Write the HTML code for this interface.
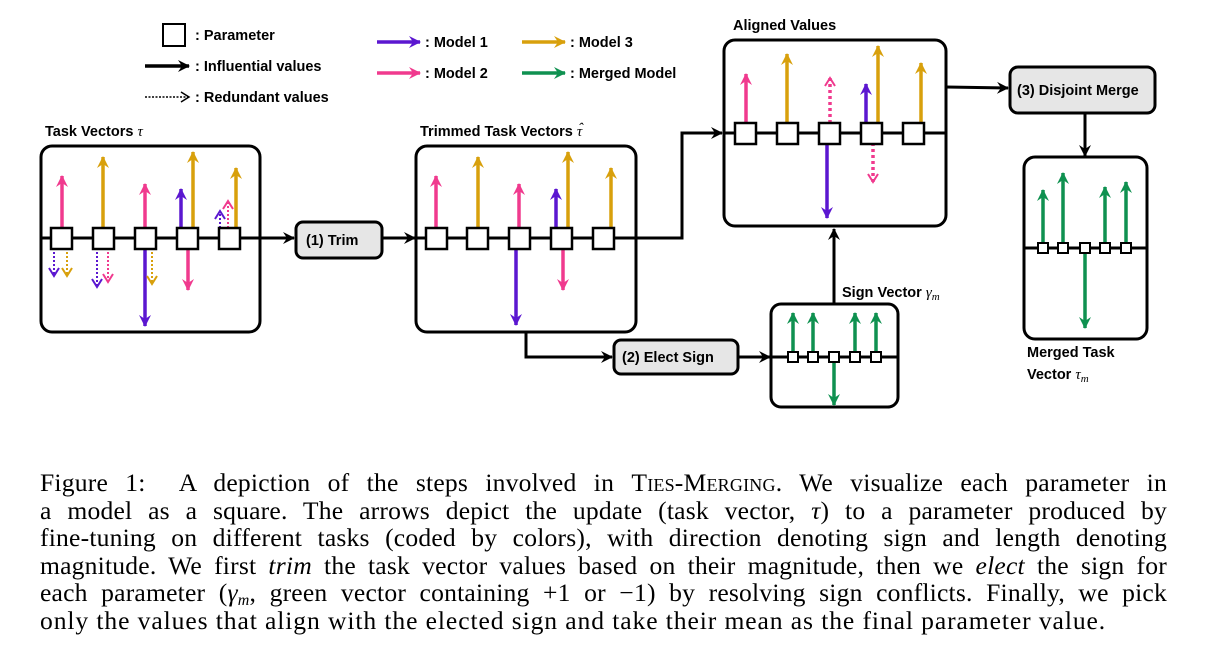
<!DOCTYPE html>
<html><head><meta charset="utf-8"><style>
body{margin:0;background:#fff;width:1222px;height:668px;overflow:hidden;position:relative}
svg{position:absolute;left:0;top:0}
.t{font-family:"Liberation Sans",sans-serif;font-weight:bold;font-size:14.5px;fill:#000}
.m{font-family:"Liberation Serif",serif;font-style:italic;font-size:15px}
#cap{position:absolute;left:40px;top:469px;width:1127px;font-family:"Liberation Serif",serif;font-size:25.6px;letter-spacing:0.2px;color:#000}
#cap div{height:27.6px;line-height:27.6px;text-align:justify;text-align-last:justify;white-space:nowrap}
#cap div.l{text-align-last:left;letter-spacing:0.9px}
.sc{font-variant:small-caps}
.sb{font-size:16px;position:relative;top:4px}
</style></head><body>
<svg width="1222" height="668" viewBox="0 0 1222 668">
<defs>
<marker id="k" markerUnits="userSpaceOnUse" markerWidth="14" markerHeight="14" refX="11" refY="7" orient="auto"><path d="M0,1 L12,7 L0,13 L4,7z" fill="#000"/></marker>
<marker id="P" markerUnits="userSpaceOnUse" markerWidth="14" markerHeight="14" refX="11" refY="7" orient="auto"><path d="M0,1 L12,7 L0,13 L4,7z" fill="#5b17d0"/></marker>
<marker id="K" markerUnits="userSpaceOnUse" markerWidth="14" markerHeight="14" refX="11" refY="7" orient="auto"><path d="M0,1 L12,7 L0,13 L4,7z" fill="#f03a8e"/></marker>
<marker id="G" markerUnits="userSpaceOnUse" markerWidth="14" markerHeight="14" refX="11" refY="7" orient="auto"><path d="M0,1 L12,7 L0,13 L4,7z" fill="#d8a00c"/></marker>
<marker id="N" markerUnits="userSpaceOnUse" markerWidth="14" markerHeight="14" refX="11" refY="7" orient="auto"><path d="M0,1 L12,7 L0,13 L4,7z" fill="#0f9150"/></marker>
<marker id="dP" markerUnits="userSpaceOnUse" markerWidth="12" markerHeight="12" refX="9" refY="6" orient="auto"><path d="M1,1 L9,6 L1,11" fill="none" stroke="#5b17d0" stroke-width="2"/></marker>
<marker id="dK" markerUnits="userSpaceOnUse" markerWidth="12" markerHeight="12" refX="9" refY="6" orient="auto"><path d="M1,1 L9,6 L1,11" fill="none" stroke="#f03a8e" stroke-width="2"/></marker>
<marker id="dG" markerUnits="userSpaceOnUse" markerWidth="12" markerHeight="12" refX="9" refY="6" orient="auto"><path d="M1,1 L9,6 L1,11" fill="none" stroke="#d8a00c" stroke-width="2"/></marker>
<marker id="dk" markerUnits="userSpaceOnUse" markerWidth="12" markerHeight="12" refX="9" refY="6" orient="auto"><path d="M1,1 L9,6 L1,11" fill="none" stroke="#000" stroke-width="1.5"/></marker>
</defs>
<g stroke-width="3.5" fill="none">
<rect x="163" y="24" width="22" height="22" stroke="#000" stroke-width="2"/>
<line x1="145" y1="66" x2="189" y2="66" stroke="#000" marker-end="url(#k)"/>
<line x1="145" y1="97" x2="189" y2="97" stroke="#000" stroke-width="1.5" stroke-dasharray="2 1.5" marker-end="url(#dk)"/>
<line x1="377" y1="42" x2="420" y2="42" stroke="#5b17d0" marker-end="url(#P)"/>
<line x1="377" y1="73" x2="420" y2="73" stroke="#f03a8e" marker-end="url(#K)"/>
<line x1="522" y1="42" x2="565" y2="42" stroke="#d8a00c" marker-end="url(#G)"/>
<line x1="522" y1="73" x2="565" y2="73" stroke="#0f9150" marker-end="url(#N)"/>

<rect x="41" y="146" width="219" height="186" rx="11" stroke="#000" stroke-width="3"/>
<line x1="41" y1="238" x2="294" y2="238" stroke="#000" stroke-width="3" marker-end="url(#k)"/>
<line x1="62" y1="228" x2="62" y2="176" stroke="#f03a8e" marker-end="url(#K)"/>
<line x1="103" y1="228" x2="103" y2="157" stroke="#d8a00c" marker-end="url(#G)"/>
<line x1="145" y1="228" x2="145" y2="184" stroke="#f03a8e" marker-end="url(#K)"/>
<line x1="145" y1="248" x2="145" y2="326" stroke="#5b17d0" marker-end="url(#P)"/>
<line x1="181" y1="228" x2="181" y2="189" stroke="#5b17d0" marker-end="url(#P)"/>
<line x1="193" y1="228" x2="193" y2="152" stroke="#d8a00c" marker-end="url(#G)"/>
<line x1="188" y1="248" x2="188" y2="290" stroke="#f03a8e" marker-end="url(#K)"/>
<line x1="236" y1="228" x2="236" y2="168" stroke="#d8a00c" marker-end="url(#G)"/>
<g stroke-width="2" stroke-dasharray="2 2">
<line x1="54" y1="248" x2="54" y2="276" stroke="#5b17d0" marker-end="url(#dP)"/>
<line x1="67" y1="248" x2="67" y2="276" stroke="#d8a00c" marker-end="url(#dG)"/>
<line x1="97" y1="248" x2="97" y2="287" stroke="#5b17d0" marker-end="url(#dP)"/>
<line x1="108" y1="248" x2="108" y2="282" stroke="#f03a8e" marker-end="url(#dK)"/>
<line x1="152" y1="248" x2="152" y2="284" stroke="#d8a00c" marker-end="url(#dG)"/>
<line x1="220" y1="228" x2="220" y2="211" stroke="#5b17d0" marker-end="url(#dP)"/>
<line x1="228" y1="228" x2="228" y2="201" stroke="#f03a8e" marker-end="url(#dK)"/>
</g>
<g fill="#fff" stroke="#000" stroke-width="2.5">
<rect x="51" y="228" width="21" height="21"/><rect x="93" y="228" width="21" height="21"/><rect x="135" y="228" width="21" height="21"/><rect x="177" y="228" width="21" height="21"/><rect x="219" y="228" width="21" height="21"/>
</g>
<rect x="296" y="222" width="86" height="36" rx="7" fill="#e6e6e6" stroke="#000" stroke-width="3"/>
<line x1="382" y1="238" x2="415" y2="238" stroke="#000" stroke-width="3" marker-end="url(#k)"/>

<rect x="416" y="146" width="220" height="186" rx="11" stroke="#000" stroke-width="3"/>
<polyline points="416,238 682,238 682,133 722,133" stroke="#000" stroke-width="3" marker-end="url(#k)"/>
<polyline points="526,332 526,357 612,357" stroke="#000" stroke-width="3" marker-end="url(#k)"/>
<line x1="436" y1="228" x2="436" y2="176" stroke="#f03a8e" marker-end="url(#K)"/>
<line x1="478" y1="228" x2="478" y2="157" stroke="#d8a00c" marker-end="url(#G)"/>
<line x1="519" y1="228" x2="519" y2="184" stroke="#f03a8e" marker-end="url(#K)"/>
<line x1="516" y1="248" x2="516" y2="325" stroke="#5b17d0" marker-end="url(#P)"/>
<line x1="556" y1="228" x2="556" y2="189" stroke="#5b17d0" marker-end="url(#P)"/>
<line x1="568" y1="228" x2="568" y2="152" stroke="#d8a00c" marker-end="url(#G)"/>
<line x1="563" y1="248" x2="563" y2="290" stroke="#f03a8e" marker-end="url(#K)"/>
<line x1="611" y1="228" x2="611" y2="168" stroke="#d8a00c" marker-end="url(#G)"/>
<g fill="#fff" stroke="#000" stroke-width="2.5">
<rect x="426" y="228" width="21" height="21"/><rect x="467" y="228" width="21" height="21"/><rect x="509" y="228" width="21" height="21"/><rect x="551" y="228" width="21" height="21"/><rect x="593" y="228" width="21" height="21"/>
</g>
<rect x="614" y="340" width="124" height="34" rx="7" fill="#e6e6e6" stroke="#000" stroke-width="3"/>
<line x1="738" y1="357" x2="770" y2="357" stroke="#000" stroke-width="3" marker-end="url(#k)"/>

<rect x="724" y="40" width="222" height="186" rx="11" stroke="#000" stroke-width="3"/>
<line x1="724" y1="133" x2="946" y2="133" stroke="#000" stroke-width="3"/>
<polyline points="946,87 1008,88" stroke="#000" stroke-width="3" marker-end="url(#k)"/>
<line x1="746" y1="123" x2="746" y2="74" stroke="#f03a8e" marker-end="url(#K)"/>
<line x1="787" y1="123" x2="787" y2="54" stroke="#d8a00c" marker-end="url(#G)"/>
<line x1="827" y1="143" x2="827" y2="218" stroke="#5b17d0" marker-end="url(#P)"/>
<line x1="866" y1="123" x2="866" y2="84" stroke="#5b17d0" marker-end="url(#P)"/>
<line x1="878" y1="123" x2="878" y2="46" stroke="#d8a00c" marker-end="url(#G)"/>
<line x1="921" y1="123" x2="921" y2="63" stroke="#d8a00c" marker-end="url(#G)"/>
<line x1="830" y1="123" x2="830" y2="78" stroke="#f03a8e" stroke-dasharray="3 3" marker-end="url(#dK)"/>
<line x1="873" y1="143" x2="873" y2="182" stroke="#f03a8e" stroke-dasharray="3 3" marker-end="url(#dK)"/>
<g fill="#fff" stroke="#000" stroke-width="2.5">
<rect x="735" y="123" width="21" height="21"/><rect x="777" y="123" width="21" height="21"/><rect x="819" y="123" width="21" height="21"/><rect x="861" y="123" width="21" height="21"/><rect x="903" y="123" width="21" height="21"/>
</g>
<rect x="1010" y="67" width="145" height="46" rx="8" fill="#e6e6e6" stroke="#000" stroke-width="3"/>
<line x1="1085" y1="113" x2="1085" y2="156" stroke="#000" stroke-width="3" marker-end="url(#k)"/>

<rect x="1024" y="157" width="123" height="182" rx="11" stroke="#000" stroke-width="3"/>
<line x1="1024" y1="248" x2="1147" y2="248" stroke="#000" stroke-width="3"/>
<line x1="1043" y1="243" x2="1043" y2="190" stroke="#0f9150" marker-end="url(#N)"/>
<line x1="1063" y1="243" x2="1063" y2="173" stroke="#0f9150" marker-end="url(#N)"/>
<line x1="1085" y1="253" x2="1085" y2="328" stroke="#0f9150" marker-end="url(#N)"/>
<line x1="1105" y1="243" x2="1105" y2="187" stroke="#0f9150" marker-end="url(#N)"/>
<line x1="1126" y1="243" x2="1126" y2="182" stroke="#0f9150" marker-end="url(#N)"/>
<g fill="#fff" stroke="#000" stroke-width="2">
<rect x="1038" y="243" width="10" height="10"/><rect x="1058" y="243" width="10" height="10"/><rect x="1080" y="243" width="10" height="10"/><rect x="1100" y="243" width="10" height="10"/><rect x="1121" y="243" width="10" height="10"/>
</g>

<rect x="771" y="304" width="127" height="103" rx="10" stroke="#000" stroke-width="3"/>
<line x1="834" y1="304" x2="834" y2="229" stroke="#000" stroke-width="3" marker-end="url(#k)"/>
<line x1="771" y1="357" x2="898" y2="357" stroke="#000" stroke-width="3"/>
<line x1="793" y1="352" x2="793" y2="313" stroke="#0f9150" marker-end="url(#N)"/>
<line x1="813" y1="352" x2="813" y2="313" stroke="#0f9150" marker-end="url(#N)"/>
<line x1="855" y1="352" x2="855" y2="313" stroke="#0f9150" marker-end="url(#N)"/>
<line x1="876" y1="352" x2="876" y2="313" stroke="#0f9150" marker-end="url(#N)"/>
<line x1="834" y1="362" x2="834" y2="405" stroke="#0f9150" marker-end="url(#N)"/>
<g fill="#fff" stroke="#000" stroke-width="2">
<rect x="788" y="352" width="10" height="10"/><rect x="808" y="352" width="10" height="10"/><rect x="829" y="352" width="10" height="10"/><rect x="850" y="352" width="10" height="10"/><rect x="871" y="352" width="10" height="10"/>
</g>
</g>
<text class="t" x="195" y="40">: Parameter</text>
<text class="t" x="195" y="71">: Influential values</text>
<text class="t" x="195" y="102">: Redundant values</text>
<text class="t" x="425" y="47">: Model 1</text>
<text class="t" x="425" y="78">: Model 2</text>
<text class="t" x="570" y="47">: Model 3</text>
<text class="t" x="570" y="78">: Merged Model</text>
<text class="t" x="45" y="136">Task Vectors <tspan class="m" font-weight="normal">τ</tspan></text>
<text class="t" x="420" y="136">Trimmed Task Vectors <tspan class="m" font-weight="normal">τ</tspan></text>
<text class="m" x="578" y="133">ˆ</text>
<text class="t" x="733" y="30">Aligned Values</text>
<text class="t" x="306" y="245">(1) Trim</text>
<text class="t" x="622" y="362">(2) Elect Sign</text>
<text class="t" x="1017" y="95">(3) Disjoint Merge</text>
<text class="t" x="842" y="297">Sign Vector <tspan class="m" font-weight="normal">γ<tspan font-size="11" dy="3">m</tspan></tspan></text>
<text class="t" x="1027" y="357">Merged Task</text>
<text class="t" x="1027" y="379">Vector <tspan class="m" font-weight="normal">τ<tspan font-size="11" dy="3">m</tspan></tspan></text>
</svg>
<div id="cap">
<div>Figure 1:&nbsp; A depiction of the steps involved in <span class="sc">Ties-Merging</span>. We visualize each parameter in</div>
<div>a model as a square. The arrows depict the update (task vector, <i>τ</i>) to a parameter produced by</div>
<div>fine-tuning on different tasks (coded by colors), with direction denoting sign and length denoting</div>
<div>magnitude. We first <i>trim</i> the task vector values based on their magnitude, then we <i>elect</i> the sign for</div>
<div>each parameter (<i>γ</i><span class="sb"><i>m</i></span>, green vector containing +1 or −1) by resolving sign conflicts. Finally, we pick</div>
<div class="l">only the values that align with the elected sign and take their mean as the final parameter value.</div>
</div>
</body></html>
